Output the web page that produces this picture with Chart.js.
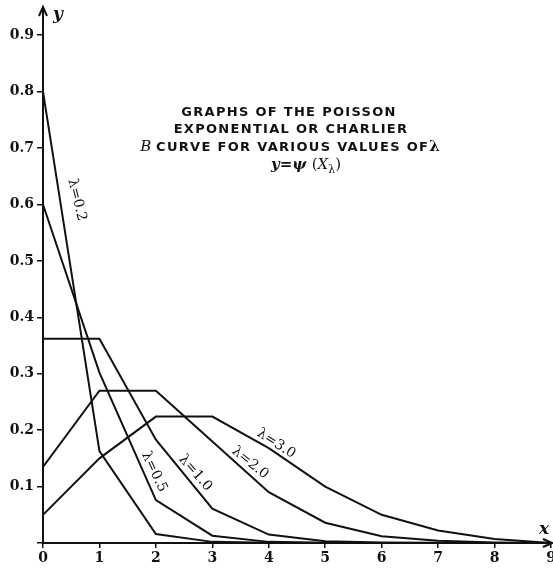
<!DOCTYPE html>
<html>
<head>
<meta charset="utf-8">
<script src="https://cdn.jsdelivr.net/npm/chart.js@4.4.1/dist/chart.umd.min.js"></script>
<style>
  html, body { margin: 0; padding: 0; background: #fff; }
  #wrap { width: 553px; height: 570px; }
</style>
</head>
<body>
<div id="wrap"><canvas id="grafico"></canvas></div>
<script>
// valores (x = 0..9)
const xValores = [0, 1, 2, 3, 4, 5, 6, 7, 8, 9];
const lambda02 = [0.80, 0.163, 0.016, 0.002, 0.0005, 0, 0, 0, 0, 0];
const lambda05 = [0.60, 0.302, 0.076, 0.013, 0.002, 0.0005, 0, 0, 0, 0];
const lambda10 = [0.362, 0.362, 0.183, 0.061, 0.015, 0.003, 0.001, 0.0005, 0, 0];
const lambda20 = [0.135, 0.270, 0.270, 0.180, 0.090, 0.036, 0.012, 0.004, 0.001, 0];
const lambda30 = [0.050, 0.150, 0.224, 0.224, 0.168, 0.100, 0.050, 0.022, 0.007, 0];
const series = [lambda02, lambda05, lambda10, lambda20, lambda30];

const tituloLinhas = ["GRAPHS OF THE POISSON", "EXPONENTIAL OR CHARLIER", "CURVE FOR VARIOUS VALUES OF"];

// rótulos escritos ao longo das curvas (posição em coordenadas dos dados)
const rotulosCurvas = [
  { texto: "λ=0.2", x: 0.60, y: 0.608, angulo: 76 },
  { texto: "λ=0.5", x: 1.97, y: 0.126, angulo: 65 },
  { texto: "λ=1.0", x: 2.70, y: 0.124, angulo: 49 },
  { texto: "λ=2.0", x: 3.67, y: 0.142, angulo: 39 },
  { texto: "λ=3.0", x: 4.13, y: 0.176, angulo: 33 },
];

const preto = "#111";
const fonteSerif = "'DejaVu Serif', 'Liberation Serif', serif";
const fonteTitulo = "'DejaVu Sans', sans-serif";

const datasets = series.map((s) => ({
  data: xValores.map((x, i) => ({ x: x, y: s[i] })),
  borderColor: preto,
  borderWidth: 2,
  pointRadius: 0,
  tension: 0,
  fill: false,
}));

// escreve pedaços de texto em sequência, centrados em cx
function escreverLinha(ctx, pedacos, cx, base) {
  let largura = 0;
  pedacos.forEach((p) => {
    ctx.font = p.font;
    ctx.letterSpacing = p.esp || "0px";
    largura += ctx.measureText(p.t).width;
  });
  let x = cx - largura / 2;
  pedacos.forEach((p) => {
    ctx.font = p.font;
    ctx.letterSpacing = p.esp || "0px";
    ctx.fillText(p.t, x, base + (p.dy || 0));
    x += ctx.measureText(p.t).width;
  });
  ctx.letterSpacing = "0px";
}

const extras = {
  id: "extras",
  afterDraw(chart) {
    const ctx = chart.ctx;
    const sx = chart.scales.x;
    const sy = chart.scales.y;
    const area = chart.chartArea;
    ctx.save();
    ctx.strokeStyle = preto;
    ctx.fillStyle = preto;
    ctx.lineWidth = 2;

    // setas dos eixos
    ctx.beginPath();
    ctx.moveTo(area.left - 4, area.top + 9);
    ctx.lineTo(area.left, area.top);
    ctx.lineTo(area.left + 4, area.top + 9);
    ctx.moveTo(area.right - 8, area.bottom - 4);
    ctx.lineTo(area.right + 1, area.bottom);
    ctx.lineTo(area.right - 8, area.bottom + 4);
    ctx.stroke();

    ctx.textAlign = "left";
    ctx.textBaseline = "alphabetic";
    ctx.font = "italic bold 17px " + fonteSerif;
    ctx.fillText("y", area.left + 10, area.top + 12);
    ctx.fillText("x", area.right - 12, area.bottom - 9);

    // título
    const tf = "bold 13px " + fonteTitulo;
    escreverLinha(ctx, [{ t: tituloLinhas[0], font: tf, esp: "1.3px" }], 289, 116);
    escreverLinha(ctx, [{ t: tituloLinhas[1], font: tf, esp: "1.3px" }], 291, 133);
    escreverLinha(ctx, [
      { t: "B ", font: "italic 15px " + fonteSerif },
      { t: tituloLinhas[2], font: tf, esp: "1.3px" },
      { t: "λ", font: "bold 15px " + fonteSerif },
    ], 290, 151);
    escreverLinha(ctx, [
      { t: "y", font: "italic bold 15px " + fonteSerif },
      { t: "=", font: "bold 15px " + fonteSerif },
      { t: "ψ ", font: "italic bold 15px " + fonteSerif },
      { t: "(", font: "15px " + fonteSerif },
      { t: "X", font: "italic 15px " + fonteSerif },
      { t: "λ", font: "11px " + fonteSerif, dy: 4 },
      { t: ")", font: "15px " + fonteSerif },
    ], 306, 169);

    // rótulos das curvas
    ctx.font = "14px " + fonteSerif;
    ctx.textAlign = "center";
    ctx.textBaseline = "middle";
    rotulosCurvas.forEach((r) => {
      ctx.save();
      ctx.translate(sx.getPixelForValue(r.x), sy.getPixelForValue(r.y));
      ctx.rotate((r.angulo * Math.PI) / 180);
      ctx.fillText(r.texto, 0, 0);
      ctx.restore();
    });
    ctx.restore();
  },
};

const fonteTicks = { family: fonteSerif, weight: "bold", size: 14 };

new Chart(document.getElementById("grafico").getContext("2d"), {
  type: "line",
  data: { datasets: datasets },
  options: {
    responsive: true,
    maintainAspectRatio: false,
    animation: false,
    layout: { padding: { top: 7, right: 2, left: 0, bottom: 0 } },
    plugins: { legend: { display: false }, tooltip: { enabled: false } },
    scales: {
      x: {
        type: "linear",
        min: 0,
        max: 9,
        ticks: { stepSize: 1, color: preto, font: fonteTicks, padding: 2, maxRotation: 0, autoSkip: false },
        grid: { drawOnChartArea: false, drawTicks: true, tickLength: 5, color: preto, lineWidth: 1.5 },
        border: { display: true, color: preto, width: 2 },
        afterFit(s) {
          s.height = 27;
          s.paddingLeft = 0;
          s.paddingRight = 0;
        },
      },
      y: {
        type: "linear",
        min: 0,
        max: 0.95,
        ticks: {
          stepSize: 0.1,
          includeBounds: false,
          color: preto,
          font: fonteTicks,
          padding: 3,
          callback: (v) => (v < 0.05 ? "" : v.toFixed(1)),
        },
        grid: { drawOnChartArea: false, drawTicks: true, tickLength: 6, color: preto, lineWidth: 1.5 },
        border: { display: true, color: preto, width: 2 },
        afterFit(s) {
          s.width = 43;
          s.paddingTop = 0;
          s.paddingBottom = 0;
        },
      },
    },
  },
  plugins: [extras],
});
</script>
</body>
</html>
